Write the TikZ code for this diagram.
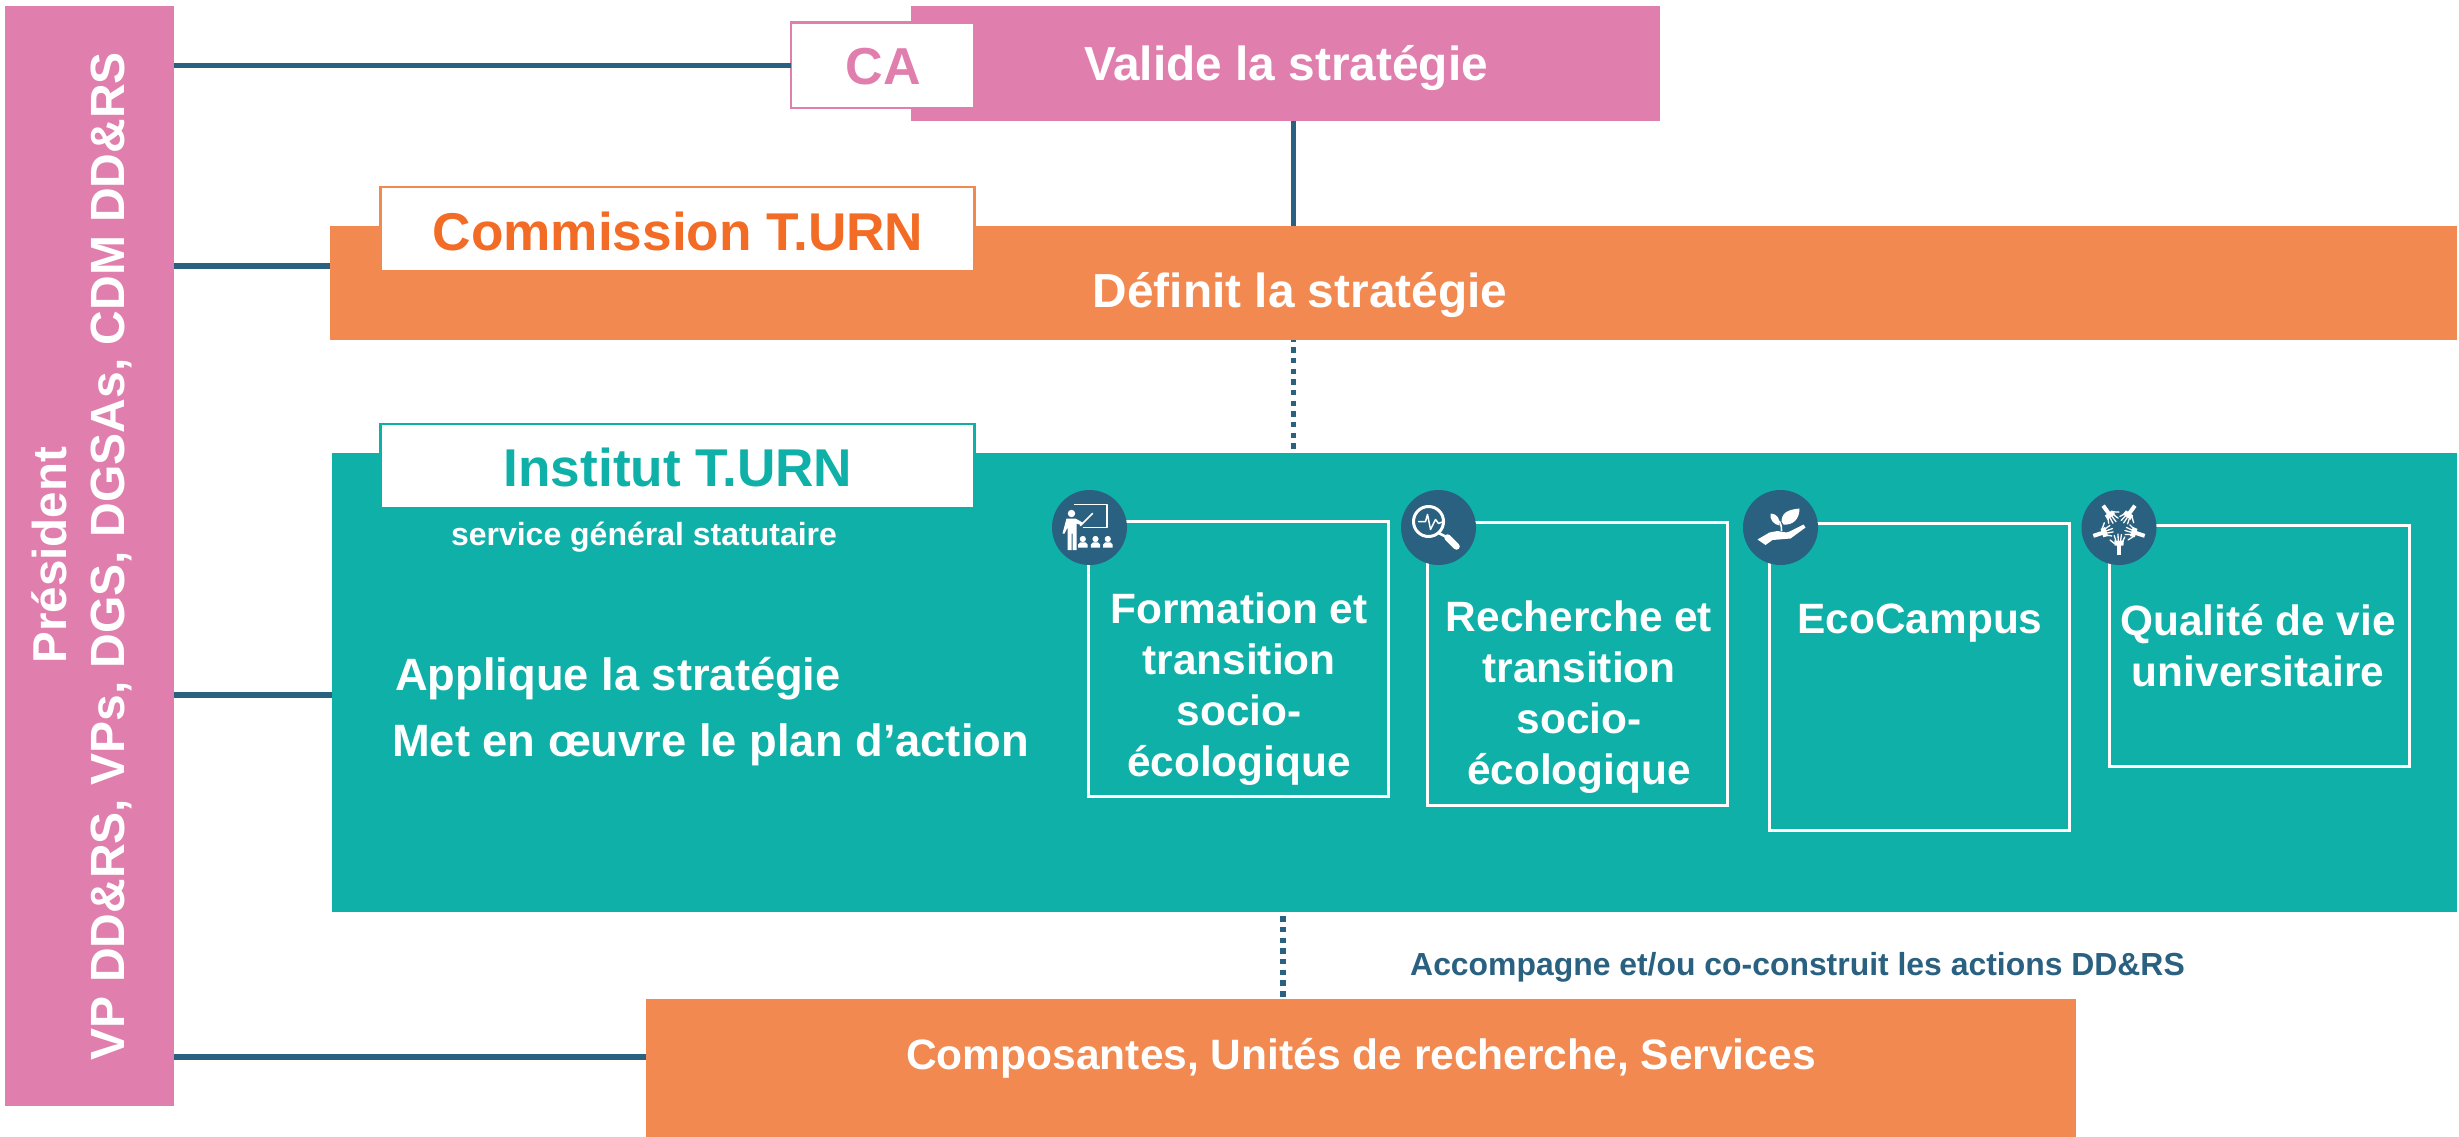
\documentclass[tikz,border=0pt]{standalone}
\usepackage{fontspec}
\setmainfont{Liberation Sans}
\definecolor{pinkc}{HTML}{E07FAD}
\definecolor{orangec}{HTML}{F18950}
\definecolor{orangetext}{HTML}{F36C25}
\definecolor{tealc}{HTML}{0FB0A8}
\definecolor{bluec}{HTML}{2A6080}
\newcommand{\fsz}[2]{\fontsize{#1}{#2}\selectfont\bfseries}
\newcommand{\handshape}[1]{%
  \begin{scope}[rotate=#1,icon]
    \fill[white] (-2,16) rectangle (2,27);
    \fill[white] (-4.4,18) -- (4.4,18) -- (4.8,13) -- (-4.8,13) -- cycle;
    \draw[line width=1.3pt] (-4,16.5) -- (-9,12.5);
    \draw[line width=1.3pt] (-3.2,13) -- (-4.8,8);
    \draw[line width=1.3pt] (-0.8,13) -- (-1,6.5);
    \draw[line width=1.3pt] (1.6,13) -- (2.4,7);
    \draw[line width=1.3pt] (3.8,13.5) -- (5.8,9.5);
  \end{scope}}
\tikzset{
  x=1pt,y=-1pt,
  block/.style={rectangle,anchor=north west,inner sep=0pt,outer sep=0pt},
  tab/.style={block,fill=white,line width=2.5pt},
  card/.style={block,draw=white,line width=3pt},
  badge/.style={circle,fill=bluec,inner sep=0pt,minimum size=75pt},
  link/.style={draw=bluec,line width=5.5pt},
  dotlink/.style={draw=bluec,line width=5.5pt,dash pattern=on 5.5pt off 5.17pt},
  icon/.style={draw=white,line cap=round,line join=round,line width=1.8pt},
  wtext/.style={text=white,inner sep=0pt,anchor=base},
  cardtext/.style={wtext,align=center,font=\fsz{42.4}{51}},
}
\begin{document}
\begin{tikzpicture}
\useasboundingbox (0,0) rectangle (2459,1137);
% left bar
\node[block,fill=pinkc,minimum width=169pt,minimum height=1100pt] (pres) at (5,6) {};
\node[wtext,rotate=90,font=\fsz{47.5}{56}] (prestxt) at (66,555) {Président};
\node[wtext,rotate=90,font=\fsz{48}{56}] (vptxt) at (124,556) {VP DD\&RS, VPs, DGS, DGSAs, CDM DD\&RS};
% CA
\node[block,fill=pinkc,minimum width=749pt,minimum height=115.3pt] (valide) at (911,6) {};
\node[tab,draw=pinkc,minimum width=183pt,minimum height=85.5pt] (ca) at (791,22.7) {};
\node[wtext,text=pinkc,font=\fsz{52}{60}] (catxt) at (883,85) {CA};
\node[wtext,font=\fsz{47.8}{56}] (validetxt) at (1286,81) {Valide la stratégie};
% Commission
\node[block,fill=orangec,minimum width=2127pt,minimum height=114.5pt] (def) at (330,225.5) {};
\node[tab,draw=orangec,minimum width=594pt,minimum height=84pt] (com) at (380.5,187) {};
\node[wtext,text=orangetext,font=\fsz{53.2}{60}] (comtxt) at (678,250) {Commission T.URN};
\node[wtext,font=\fsz{47.8}{56}] (deftxt) at (1300,307) {Définit la stratégie};
% Institut
\node[block,fill=tealc,minimum width=2125pt,minimum height=459pt] (inst) at (332,453) {};
\node[tab,draw=tealc,minimum width=594pt,minimum height=84pt] (insttab) at (380.5,424) {};
\node[wtext,text=tealc,font=\fsz{53.2}{60}] (insttxt) at (678,486) {Institut T.URN};
\node[wtext,font=\fsz{32}{38}] (svc) at (644,545) {service général statutaire};
\node[wtext,anchor=base west,font=\fsz{45.3}{50}] (app) at (395,690) {Applique la stratégie};
\node[wtext,anchor=base west,font=\fsz{45.3}{50}] (met) at (392,756) {Met en œuvre le plan d’action};
% cards
\node[card,minimum width=299.5pt,minimum height=275pt] (c1) at (1088.5,521.5) {};
\node[card,minimum width=300pt,minimum height=283pt] (c2) at (1427.5,522) {};
\node[card,minimum width=300pt,minimum height=307pt] (c3) at (1769.5,523) {};
\node[card,minimum width=299.5pt,minimum height=241pt] (c4) at (2109.5,525) {};
\node[cardtext] (t1) at (1239,776) {Formation et\\transition\\socio-\\écologique};
\node[cardtext] (t2) at (1579,784) {Recherche et\\transition\\socio-\\écologique};
\node[cardtext] (t3) at (1920,633) {EcoCampus};
\node[cardtext] (t4) at (2258,686) {Qualité de vie\\universitaire};
% badges
\node[badge] (b1) at (1089.5,527.5) {};
\node[badge] (b2) at (1438.5,527.5) {};
\node[badge] (b3) at (1780.5,527.5) {};
\node[badge] (b4) at (2119,527.5) {};
% teacher icon
\begin{scope}[shift={(b1.center)},icon]
  \draw[line width=1.5pt] (-15,-23) -- (17.5,-23) -- (17.5,0) -- (-6,0);
  \draw[line width=1.5pt] (-9,-2) -- (3,-14);
  \fill[white] (-18,-14) circle [radius=3.7];
  \fill[white] (-23,-9) -- (-14,-9) -- (-7,-5) -- (-8.5,-2.5) -- (-13,-4) -- (-13,22.5) -- (-17,22.5) -- (-17,6) -- (-18,6) -- (-18,22.5) -- (-22,22.5) -- (-22,0) -- (-25,6) -- (-27,6) -- cycle;
  \foreach \px in {-6.7,6,18.3}{
    \fill[white] (\px,11.5) circle [radius=3.1];
    \fill[white] (\px-4.7,20) -- (\px-4.7,17) -- (\px-2.5,14.8) -- (\px+2.5,14.8) -- (\px+4.7,17) -- (\px+4.7,20) -- cycle;
  }
\end{scope}
% magnifier icon
\begin{scope}[shift={(b2.center)},icon]
  \draw[line width=3pt] (-10,-6) circle [radius=15];
  \draw[line width=2.5pt] (1,6) -- (9,10);
  \draw[line width=6.5pt] (9,10) -- (18,19);
  \draw[line width=1.5pt] (-20,-6) -- (-13,-6) -- (-11,-13) -- (-8,2) -- (-3,-8) -- (0,-4) -- (5,-6);
\end{scope}
% plant in hand icon
\begin{scope}[shift={(b3.center)},icon]
  \fill[white] (-23,12) -- (-11,5) -- (-3,3.5) -- (6,5) -- (9,4) -- (23,-3) -- (25,0) -- (10,11) -- (-8,12.5) -- (-15,17.5) -- cycle;
  \draw[line width=1.6pt] (1,3) .. controls (1,-2) and (0,-4) .. (-1,-6);
  \fill[white] (1,-6) .. controls (1,-15) and (8,-18) .. (19,-19) .. controls (19,-8) and (12,-2) .. (3,-3) -- cycle;
  \fill[white] (-1,-2) .. controls (-7,-3) and (-11,-8) .. (-10,-14) .. controls (-4,-14) and (0,-9) .. (-1,-2) -- cycle;
\end{scope}
% hands icon
\begin{scope}[shift={(b4.center)}]
  \handshape{0}\handshape{72}\handshape{144}\handshape{216}\handshape{288}
\end{scope}
% outer labels
\node[wtext,text=bluec,anchor=base west,font=\fsz{31.9}{38}] (acc) at (1410,975) {Accompagne et/ou co-construit les actions DD\&RS};
% composantes
\node[block,fill=orangec,minimum width=1430pt,minimum height=138.3pt] (comp) at (646,998.7) {};
\node[wtext,font=\fsz{42.5}{50}] (comptxt) at (1361,1069) {Composantes, Unités de recherche, Services};
% connectors
\coordinate (ky2) at (0,266);
\coordinate (ky3) at (0,695);
\coordinate (ky4) at (0,1057);
\coordinate (kx1) at (1293.3,0);
\coordinate (kx2) at (1283,0);
\draw[link] (pres.east |- ca.west) -- (ca.west);
\draw[link] (pres.east |- ky2) -- (def.west |- ky2);
\draw[link] (pres.east |- ky3) -- (inst.west |- ky3);
\draw[link] (pres.east |- ky4) -- (comp.west |- ky4);
\draw[link] (kx1 |- valide.south) -- (kx1 |- def.north);
\draw[dotlink,dash phase=3.4pt] (kx1 |- def.south) -- (kx1 |- inst.north);
\draw[dotlink,dash phase=6.37pt] (kx2 |- inst.south) -- (kx2 |- comp.north);
\end{tikzpicture}
\end{document}
